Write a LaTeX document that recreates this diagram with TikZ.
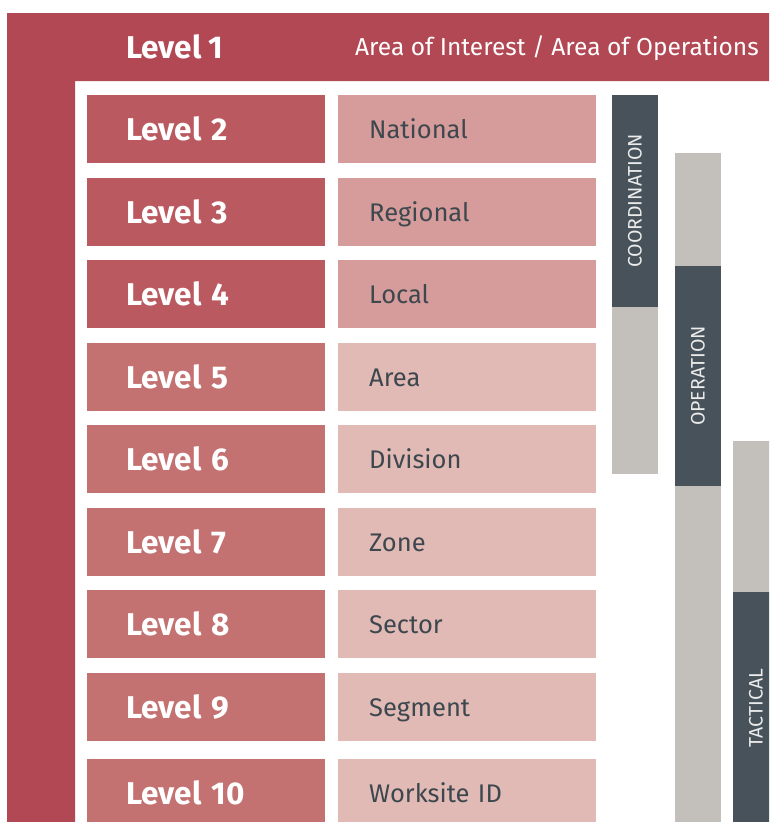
\documentclass[tikz,border=0pt]{standalone}
\usepackage{fontspec}
\setmainfont{Fira Sans}
\usepackage{tikz}

\definecolor{frame}{HTML}{B24854}
\definecolor{lvlA}{HTML}{BA5A60}
\definecolor{lvlB}{HTML}{C37171}
\definecolor{areaA}{HTML}{D69C9B}
\definecolor{areaB}{HTML}{E1B9B5}
\definecolor{slate}{HTML}{47525A}
\definecolor{stone}{HTML}{C3C0BB}
\definecolor{ink}{HTML}{3D474E}

\begin{document}
\begin{tikzpicture}[x=1pt,y=-1pt,
  lvl/.style={anchor=north west, minimum height=68pt, text width=160pt,
    inner xsep=39pt, inner ysep=0pt, align=left, text=white,
    text height=22pt, text depth=0pt,
    font=\fontsize{31.5}{31.5}\selectfont\bfseries},
  areabox/.style={anchor=north west, minimum height=68pt, text width=196pt,
    inner xsep=31pt, inner ysep=0pt, align=left, text=ink,
    text height=18pt, text depth=0pt,
    font=\fontsize{25.5}{25.5}\selectfont},
  barlabel/.style={rotate=90, text=white!92!black, inner sep=0pt,
    font=\fontsize{19.5}{19.5}\selectfont}]

\clip (0,0) rectangle (769,822);
\fill[white] (0,0) rectangle (769,822);

%% outer frame = level 1
\fill[frame] (7,13) -- (769,13) -- (769,81) -- (75,81) -- (75,822) -- (7,822) -- cycle;
\node[anchor=west, inner sep=0pt, text=white, text height=22pt, text depth=0pt,
  font=\fontsize{31.5}{31.5}\selectfont\bfseries] (lvl1) at (126,47) {Level 1};
\node[anchor=west, inner sep=0pt, text=white, text height=16pt, text depth=0pt,
  font=\fontsize{24.5}{24.5}\selectfont] (area1) at (355,47) {Area of Interest / Area of Operations};

%% levels 2 to 10
\foreach \i/\place/\top in {2/National/95, 3/Regional/178, 4/Local/260,
    5/Area/343, 6/Division/425, 7/Zone/508, 8/Sector/590,
    9/Segment/673, 10/Worksite ID/759} {
  \ifnum\i<5 \def\lc{lvlA}\def\ac{areaA}\else \def\lc{lvlB}\def\ac{areaB}\fi
  \node[lvl, fill=\lc] (lvl\i) at (87,\top) {Level \i};
  \node[areabox, fill=\ac] (area\i) at (338,\top) {\place};
}

%% coordination
\fill[slate] (612,95) rectangle (658,307);
\fill[stone] (612,307) rectangle (658,474);
\node[barlabel] (coord) at (635,201) {COORDINATION};

%% operation
\fill[stone] (675,153) rectangle (721,266);
\fill[slate] (675,266) rectangle (721,486);
\fill[stone] (675,486) rectangle (721,822);
\node[barlabel] (oper) at (698,376) {OPERATION};

%% tactical
\fill[stone] (733,441) rectangle (779,592);
\fill[slate] (733,592) rectangle (779,822);
\node[barlabel] (tact) at (756,708) {TACTICAL};

\end{tikzpicture}
\end{document}
